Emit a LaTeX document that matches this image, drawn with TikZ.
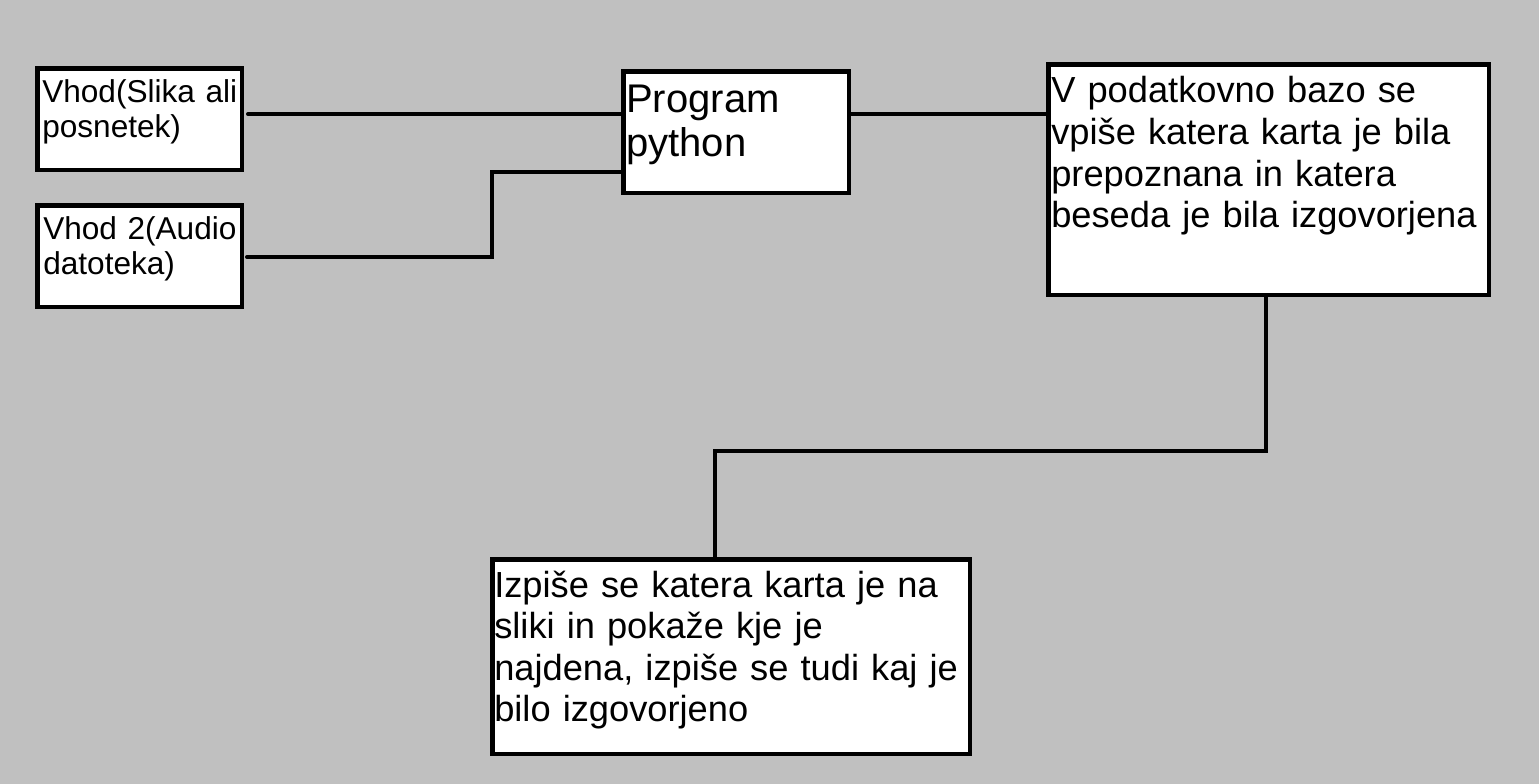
\documentclass[tikz,border=0pt]{standalone}
\usepackage{fontspec}
\setmainfont[WordSpace=0.8]{Liberation Sans}
\definecolor{bgc}{HTML}{C0C0C0}
\tikzset{
  box/.style={draw=black, fill=white, line width=3.5pt, rectangle, inner sep=0pt, anchor=north west},
  conn/.style={draw=black, line width=3pt, line cap=round},
  txt/.style={anchor=base west, inner sep=0pt, text width=420pt, align=left},
  fsmall/.style={font=\fontsize{23.7}{26.25}\selectfont},
  fprog/.style={font=\fontsize{30}{33}\selectfont},
  fbig/.style={font=\fontsize{27.2}{31.2}\selectfont},
}
\begin{document}
\begin{tikzpicture}[x=0.75pt, y=-0.75pt]
\fill[bgc] (0,0) rectangle (1539,784);
\useasboundingbox (0,0) rectangle (1539,784);
% boxes
\node[box, minimum width=153.375pt, minimum height=76.125pt] (in1) at (35.25,66.25) {};
\node[box, minimum width=153.375pt, minimum height=76.125pt] (in2) at (35.25,203.25) {};
\node[box, minimum width=169.125pt, minimum height=91.125pt] (prog) at (621.25,69.25) {};
\node[box, minimum width=330.375pt, minimum height=172.875pt] (db) at (1046.25,62.25) {};
\node[box, minimum width=358.125pt, minimum height=145.875pt] (out) at (490.25,557.25) {};
% texts
\node[txt, fsmall] (t1) at (42,103) {Vhod(Slika ali\\posnetek)};
\node[txt, fsmall] (t2) at (43,240) {Vhod 2(Audio\\datoteka)};
\node[txt, fprog] (t3) at (626,113) {Program\\python};
\node[txt, fbig] (t4) at (1051,103) {V podatkovno bazo se\\vpiše katera karta je bila\\prepoznana in katera\\beseda je bila izgovorjena};
\node[txt, fbig] (t5) at (494,597) {Izpiše se katera karta je na\\sliki in pokaže kje je\\najdena, izpiše se tudi kaj je\\bilo izgovorjeno};
% connectors
\coordinate (s1) at (248,114);
\coordinate (s2) at (247,257);
\coordinate (k2) at (492,257);
\coordinate (k3) at (492,172);
\coordinate (k4) at (1266,451);
\coordinate (k5) at (715,451);
\draw[conn] (s1) -- (s1 -| prog.west);
\draw[conn] (s2) -- (k2) -- (k3) -- (k3 -| prog.west);
\draw[conn] (s1 -| prog.east) -- (s1 -| db.west);
\draw[conn] (k4 |- db.south) -- (k4) -- (k5) -- (k5 |- out.north);
\end{tikzpicture}
\end{document}
